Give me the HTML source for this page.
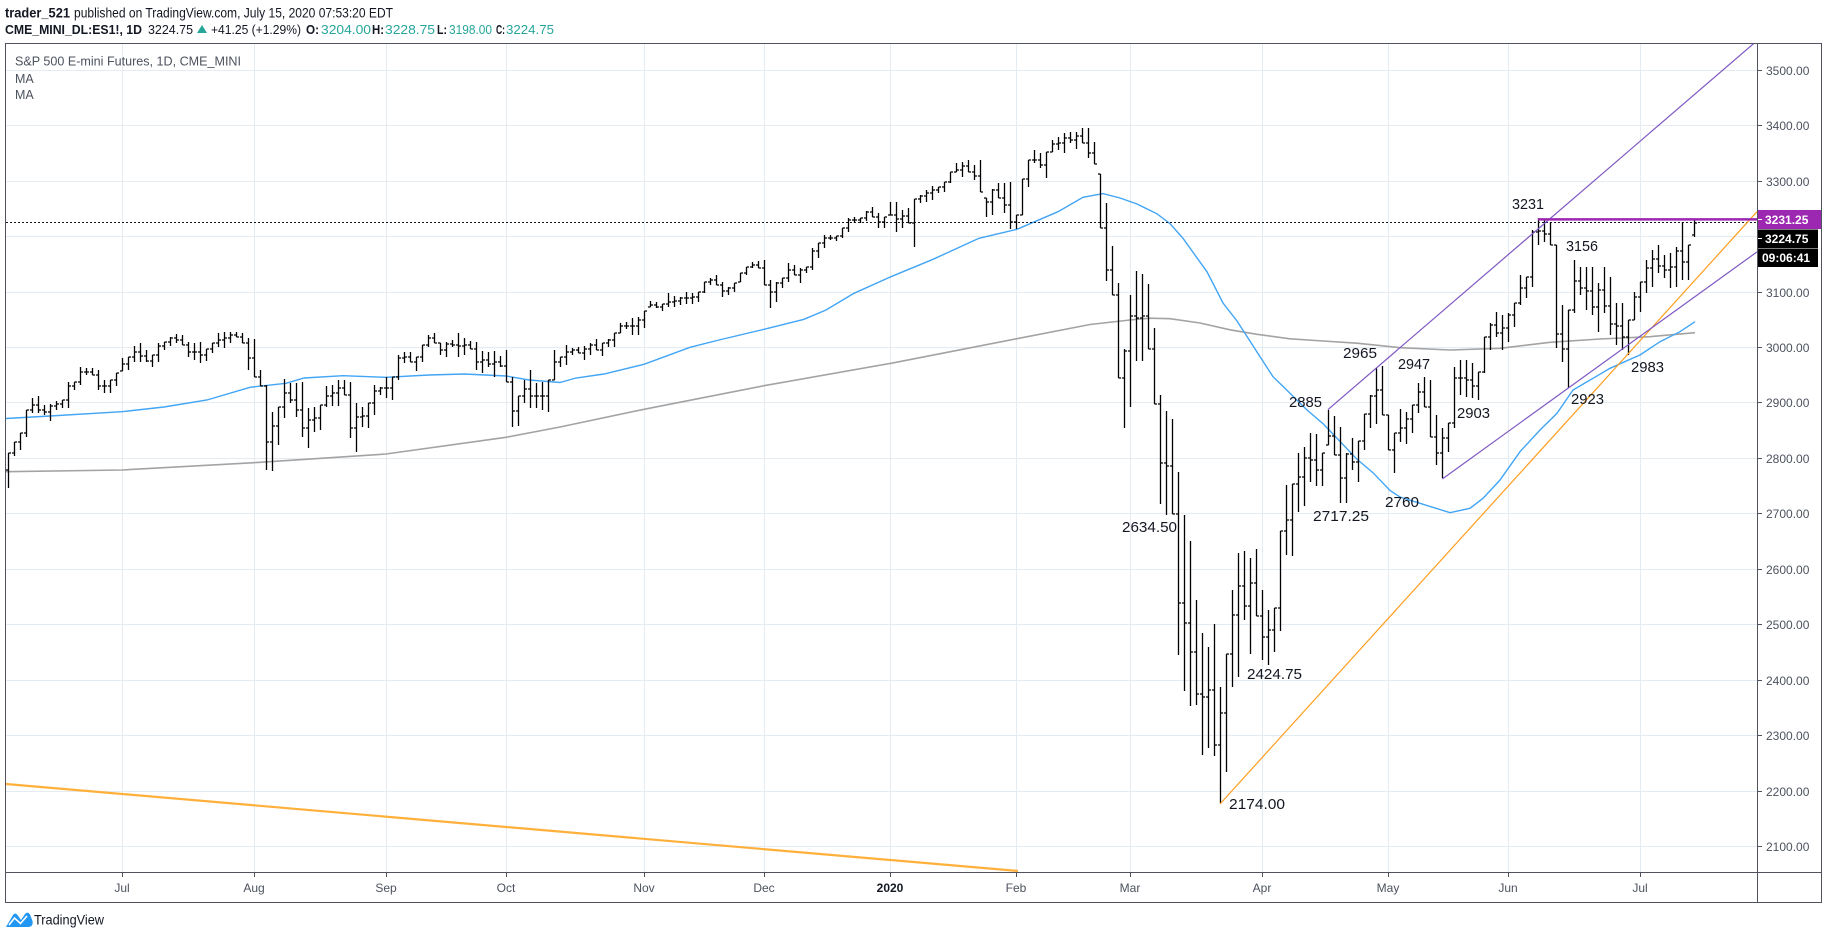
<!DOCTYPE html>
<html><head><meta charset="utf-8">
<style>
html,body{margin:0;padding:0;background:#fff;}
svg{display:block;}
text{font-family:"Liberation Sans",Arial,sans-serif;}
</style></head>
<body>
<svg width="1828" height="938" viewBox="0 0 1828 938" xmlns="http://www.w3.org/2000/svg">
<rect width="1828" height="938" fill="#ffffff"/>
<defs><clipPath id="plot"><rect x="6" y="44" width="1751" height="828"/></clipPath></defs>

<!-- header -->
<text x="5" y="17.5" font-size="13.5" font-weight="bold" fill="#131722" textLength="65" lengthAdjust="spacingAndGlyphs">trader_521</text>
<text x="74" y="17.5" font-size="13.5" fill="#131722" textLength="319" lengthAdjust="spacingAndGlyphs">published on TradingView.com, July 15, 2020 07:53:20 EDT</text>
<text x="5" y="34" font-size="13" font-weight="bold" fill="#131722" textLength="137" lengthAdjust="spacingAndGlyphs">CME_MINI_DL:ES1!, 1D</text>
<text x="148" y="34" font-size="13" fill="#131722" textLength="45" lengthAdjust="spacingAndGlyphs">3224.75</text>
<polygon points="197,33 202,25 207,33" fill="#26a69a"/>
<text x="211" y="34" font-size="13" fill="#131722" textLength="90" lengthAdjust="spacingAndGlyphs">+41.25 (+1.29%)</text>
<text x="306" y="34" font-size="13" font-weight="bold" fill="#131722" textLength="13" lengthAdjust="spacingAndGlyphs">O:</text>
<text x="321" y="34" font-size="13" fill="#26a69a" textLength="50" lengthAdjust="spacingAndGlyphs">3204.00</text>
<text x="372" y="34" font-size="13" font-weight="bold" fill="#131722" textLength="12" lengthAdjust="spacingAndGlyphs">H:</text>
<text x="385" y="34" font-size="13" fill="#26a69a" textLength="50" lengthAdjust="spacingAndGlyphs">3228.75</text>
<text x="437" y="34" font-size="13" font-weight="bold" fill="#131722" textLength="10" lengthAdjust="spacingAndGlyphs">L:</text>
<text x="449" y="34" font-size="13" fill="#26a69a" textLength="43" lengthAdjust="spacingAndGlyphs">3198.00</text>
<text x="496" y="34" font-size="13" font-weight="bold" fill="#131722" textLength="9" lengthAdjust="spacingAndGlyphs">C:</text>
<text x="506" y="34" font-size="13" fill="#26a69a" textLength="48" lengthAdjust="spacingAndGlyphs">3224.75</text>

<!-- grid -->
<g stroke="#e4ebf1" stroke-width="1">
<line x1="6" x2="1757" y1="70.5" y2="70.5"/>
<line x1="6" x2="1757" y1="125.5" y2="125.5"/>
<line x1="6" x2="1757" y1="181.5" y2="181.5"/>
<line x1="6" x2="1757" y1="236.5" y2="236.5"/>
<line x1="6" x2="1757" y1="292.5" y2="292.5"/>
<line x1="6" x2="1757" y1="347.5" y2="347.5"/>
<line x1="6" x2="1757" y1="402.5" y2="402.5"/>
<line x1="6" x2="1757" y1="458.5" y2="458.5"/>
<line x1="6" x2="1757" y1="513.5" y2="513.5"/>
<line x1="6" x2="1757" y1="569.5" y2="569.5"/>
<line x1="6" x2="1757" y1="624.5" y2="624.5"/>
<line x1="6" x2="1757" y1="680.5" y2="680.5"/>
<line x1="6" x2="1757" y1="735.5" y2="735.5"/>
<line x1="6" x2="1757" y1="791.5" y2="791.5"/>
<line x1="6" x2="1757" y1="846.5" y2="846.5"/>
<line y1="44" y2="872" x1="122.5" x2="122.5"/>
<line y1="44" y2="872" x1="254.5" x2="254.5"/>
<line y1="44" y2="872" x1="386.5" x2="386.5"/>
<line y1="44" y2="872" x1="506.5" x2="506.5"/>
<line y1="44" y2="872" x1="644.5" x2="644.5"/>
<line y1="44" y2="872" x1="764.5" x2="764.5"/>
<line y1="44" y2="872" x1="890.5" x2="890.5"/>
<line y1="44" y2="872" x1="1016.5" x2="1016.5"/>
<line y1="44" y2="872" x1="1130.5" x2="1130.5"/>
<line y1="44" y2="872" x1="1262.5" x2="1262.5"/>
<line y1="44" y2="872" x1="1388.5" x2="1388.5"/>
<line y1="44" y2="872" x1="1508.5" x2="1508.5"/>
<line y1="44" y2="872" x1="1640.5" x2="1640.5"/>
</g>

<!-- legend -->
<text x="15" y="65.5" font-size="12.5" fill="#4c525e" textLength="226" lengthAdjust="spacingAndGlyphs">S&amp;P 500 E-mini Futures, 1D, CME_MINI</text>
<text x="15" y="83" font-size="12.5" fill="#4c525e">MA</text>
<text x="15" y="99" font-size="12.5" fill="#4c525e">MA</text>

<g clip-path="url(#plot)">
<!-- MAs -->
<polyline fill="none" stroke="#a3a3a3" stroke-width="1.6" points="6,471.7 122,470 254,462.7 386,454 506,437.3 560,427 644,409.3 764,385.7 891,363.3 1017,338.7 1090,324.5 1130,320 1150,318.2 1170,318.7 1200,323 1230,329.8 1257,334.3 1290,338.8 1323,341 1357,343.2 1400,347.7 1450,350 1500,348.3 1550,342.3 1600,339 1650,336.7 1695,332.7"/>
<polyline fill="none" stroke="#42a5f5" stroke-width="1.4" points="6,418.5 50,416 122,411.7 164,407 207,400 250,387.3 286,383.3 304,378 343,375.7 386,377.3 429,375 464,374 506,376 529,380 560,382.5 576,378 604,374 644,364.3 690,347.3 719,340 764,329.3 804,319.3 826,310 854,293.3 891,276.7 933,259.3 979,238.3 1017,229.3 1058,211.7 1083,197.3 1103,193.6 1120,198 1137,204 1157,213.8 1170,223.6 1183,238.3 1207,271.8 1223,303 1237,321 1257,352 1273,376.7 1290,393.2 1307,410 1323,423.6 1340,441.4 1357,459.3 1373,472.7 1390,490.5 1400,497 1420,503.3 1450,512.7 1470,508.3 1483,498.3 1500,480 1520,451.7 1540,430 1557,413.3 1573,390 1593,378.3 1610,368.3 1627,360.7 1640,355 1660,341.7 1680,331.7 1695,321.7"/>

<!-- dotted last price line -->
<line x1="6" x2="1757" y1="222.5" y2="222.5" stroke="#131722" stroke-width="1" stroke-dasharray="2,2"/>

<!-- bars -->
<path fill="none" stroke="#000" stroke-width="1.3" d="
M8.5 453V488M8.5 470h-2.5M8.5 453h2.5
M14.5 442V456M14.5 453h-2.5M14.5 442h2.5
M20.5 433V450M20.5 442h-2.5M20.5 433h2.5
M26.5 410V437M26.5 433h-2.5M26.5 410h2.5
M32.5 398V413M32.5 410h-2.5M32.5 405h2.5
M38.5 396V413M38.5 405h-2.5M38.5 410h2.5
M44.5 405V415M44.5 410h-2.5M44.5 412h2.5
M50.5 404V421M50.5 412h-2.5M50.5 406h2.5
M56.5 401V410M56.5 406h-2.5M56.5 404h2.5
M62.5 400V408M62.5 404h-2.5M62.5 400h2.5
M68.5 382V408M68.5 400h-2.5M68.5 386h2.5
M74.5 382V390M74.5 386h-2.5M74.5 382h2.5
M80.5 367V385M80.5 382h-2.5M80.5 372h2.5
M86.5 368V375M86.5 372h-2.5M86.5 372h2.5
M92.5 368V375M92.5 372h-2.5M92.5 375h2.5
M98.5 370V390M98.5 375h-2.5M98.5 386h2.5
M104.5 380V393M104.5 386h-2.5M104.5 386h2.5
M110.5 380V393M110.5 386h-2.5M110.5 380h2.5
M116.5 373V386M116.5 380h-2.5M116.5 373h2.5
M122.5 358V371M122.5 371h-2.5M122.5 364h2.5
M128.5 357V370M128.5 364h-2.5M128.5 357h2.5
M134.5 346V362M134.5 357h-2.5M134.5 352h2.5
M140.5 343V362M140.5 352h-2.5M140.5 356h2.5
M146.5 350V362M146.5 356h-2.5M146.5 361h2.5
M152.5 355V367M152.5 361h-2.5M152.5 355h2.5
M158.5 343V362M158.5 355h-2.5M158.5 346h2.5
M164.5 342V350M164.5 346h-2.5M164.5 342h2.5
M170.5 337V346M170.5 342h-2.5M170.5 338h2.5
M176.5 334V343M176.5 338h-2.5M176.5 340h2.5
M182.5 335V345M182.5 340h-2.5M182.5 345h2.5
M188.5 342V357M188.5 345h-2.5M188.5 352h2.5
M194.5 343V360M194.5 352h-2.5M194.5 352h2.5
M200.5 342V363M200.5 352h-2.5M200.5 355h2.5
M206.5 349V361M206.5 355h-2.5M206.5 349h2.5
M212.5 343V353M212.5 349h-2.5M212.5 343h2.5
M218.5 333V347M218.5 343h-2.5M218.5 340h2.5
M224.5 332V348M224.5 340h-2.5M224.5 338h2.5
M230.5 332V343M230.5 338h-2.5M230.5 335h2.5
M236.5 332V337M236.5 335h-2.5M236.5 337h2.5
M242.5 333V343M242.5 337h-2.5M242.5 343h2.5
M248.5 338V370M248.5 343h-2.5M248.5 358h2.5
M254.5 339V377M254.5 358h-2.5M254.5 377h2.5
M260.5 370V386M260.5 377h-2.5M260.5 386h2.5
M266.5 385V470M266.5 386h-2.5M266.5 442h2.5
M272.5 412V471M272.5 442h-2.5M272.5 426h2.5
M278.5 407V445M278.5 426h-2.5M278.5 407h2.5
M284.5 379V418M284.5 407h-2.5M284.5 393h2.5
M290.5 383V403M290.5 393h-2.5M290.5 400h2.5
M296.5 383V417M296.5 400h-2.5M296.5 410h2.5
M302.5 382V437M302.5 410h-2.5M302.5 428h2.5
M308.5 408V448M308.5 428h-2.5M308.5 420h2.5
M314.5 407V432M314.5 420h-2.5M314.5 418h2.5
M320.5 405V430M320.5 418h-2.5M320.5 405h2.5
M326.5 386V407M326.5 405h-2.5M326.5 396h2.5
M332.5 385V406M332.5 396h-2.5M332.5 393h2.5
M338.5 380V406M338.5 393h-2.5M338.5 388h2.5
M344.5 380V395M344.5 388h-2.5M344.5 395h2.5
M350.5 382V438M350.5 395h-2.5M350.5 428h2.5
M356.5 403V452M356.5 428h-2.5M356.5 417h2.5
M362.5 407V427M362.5 417h-2.5M362.5 416h2.5
M368.5 403V428M368.5 416h-2.5M368.5 403h2.5
M374.5 385V415M374.5 403h-2.5M374.5 391h2.5
M380.5 387V395M380.5 391h-2.5M380.5 388h2.5
M386.5 377V398M386.5 388h-2.5M386.5 388h2.5
M392.5 377V400M392.5 388h-2.5M392.5 377h2.5
M398.5 355V380M398.5 377h-2.5M398.5 358h2.5
M404.5 352V363M404.5 358h-2.5M404.5 357h2.5
M410.5 352V362M410.5 357h-2.5M410.5 362h2.5
M416.5 357V371M416.5 362h-2.5M416.5 357h2.5
M422.5 345V362M422.5 357h-2.5M422.5 345h2.5
M428.5 335V347M428.5 345h-2.5M428.5 338h2.5
M434.5 333V343M434.5 338h-2.5M434.5 343h2.5
M440.5 343V355M440.5 343h-2.5M440.5 350h2.5
M446.5 342V357M446.5 350h-2.5M446.5 344h2.5
M452.5 340V347M452.5 344h-2.5M452.5 345h2.5
M458.5 333V357M458.5 345h-2.5M458.5 346h2.5
M464.5 338V355M464.5 346h-2.5M464.5 345h2.5
M470.5 341V349M470.5 345h-2.5M470.5 349h2.5
M476.5 342V370M476.5 349h-2.5M476.5 362h2.5
M482.5 351V373M482.5 362h-2.5M482.5 360h2.5
M488.5 352V367M488.5 360h-2.5M488.5 364h2.5
M494.5 351V377M494.5 364h-2.5M494.5 362h2.5
M500.5 356V367M500.5 362h-2.5M500.5 366h2.5
M506.5 350V382M506.5 366h-2.5M506.5 382h2.5
M512.5 377V427M512.5 382h-2.5M512.5 411h2.5
M518.5 396V426M518.5 411h-2.5M518.5 396h2.5
M524.5 380V403M524.5 396h-2.5M524.5 389h2.5
M530.5 370V408M530.5 389h-2.5M530.5 396h2.5
M536.5 383V408M536.5 396h-2.5M536.5 396h2.5
M542.5 382V410M542.5 396h-2.5M542.5 396h2.5
M548.5 380V412M548.5 396h-2.5M548.5 380h2.5
M554.5 350V380M554.5 380h-2.5M554.5 362h2.5
M560.5 357V367M560.5 362h-2.5M560.5 357h2.5
M566.5 345V365M566.5 357h-2.5M566.5 352h2.5
M572.5 348V355M572.5 352h-2.5M572.5 350h2.5
M578.5 347V353M578.5 350h-2.5M578.5 353h2.5
M584.5 346V360M584.5 353h-2.5M584.5 349h2.5
M590.5 343V355M590.5 349h-2.5M590.5 345h2.5
M596.5 339V350M596.5 345h-2.5M596.5 350h2.5
M602.5 343V356M602.5 350h-2.5M602.5 343h2.5
M608.5 339V347M608.5 343h-2.5M608.5 340h2.5
M614.5 333V347M614.5 340h-2.5M614.5 333h2.5
M620.5 323V333M620.5 333h-2.5M620.5 326h2.5
M626.5 322V329M626.5 326h-2.5M626.5 326h2.5
M632.5 318V335M632.5 326h-2.5M632.5 326h2.5
M638.5 317V335M638.5 326h-2.5M638.5 320h2.5
M644.5 311V328M644.5 320h-2.5M644.5 311h2.5
M650.5 301V307M650.5 307h-2.5M650.5 305h2.5
M656.5 302V308M656.5 305h-2.5M656.5 307h2.5
M662.5 304V311M662.5 307h-2.5M662.5 304h2.5
M668.5 293V307M668.5 304h-2.5M668.5 302h2.5
M674.5 296V307M674.5 302h-2.5M674.5 301h2.5
M680.5 297V305M680.5 301h-2.5M680.5 298h2.5
M686.5 292V304M686.5 298h-2.5M686.5 298h2.5
M692.5 293V304M692.5 298h-2.5M692.5 297h2.5
M698.5 292V302M698.5 297h-2.5M698.5 292h2.5
M704.5 282V293M704.5 292h-2.5M704.5 282h2.5
M710.5 278V285M710.5 282h-2.5M710.5 280h2.5
M716.5 275V285M716.5 280h-2.5M716.5 285h2.5
M722.5 282V297M722.5 285h-2.5M722.5 291h2.5
M728.5 287V295M728.5 291h-2.5M728.5 288h2.5
M734.5 283V292M734.5 288h-2.5M734.5 283h2.5
M740.5 273V282M740.5 282h-2.5M740.5 273h2.5
M746.5 267V275M746.5 273h-2.5M746.5 267h2.5
M752.5 262V268M752.5 267h-2.5M752.5 265h2.5
M758.5 261V268M758.5 265h-2.5M758.5 268h2.5
M764.5 260V285M764.5 268h-2.5M764.5 285h2.5
M770.5 280V308M770.5 285h-2.5M770.5 292h2.5
M776.5 282V302M776.5 292h-2.5M776.5 283h2.5
M782.5 278V288M782.5 283h-2.5M782.5 278h2.5
M788.5 263V282M788.5 278h-2.5M788.5 270h2.5
M794.5 265V275M794.5 270h-2.5M794.5 275h2.5
M800.5 268V283M800.5 275h-2.5M800.5 270h2.5
M806.5 267V273M806.5 270h-2.5M806.5 267h2.5
M812.5 248V270M812.5 267h-2.5M812.5 251h2.5
M818.5 243V258M818.5 251h-2.5M818.5 243h2.5
M824.5 235V248M824.5 243h-2.5M824.5 238h2.5
M830.5 235V240M830.5 238h-2.5M830.5 238h2.5
M836.5 236V241M836.5 238h-2.5M836.5 236h2.5
M842.5 228V238M842.5 236h-2.5M842.5 228h2.5
M848.5 218V232M848.5 228h-2.5M848.5 220h2.5
M854.5 217V223M854.5 220h-2.5M854.5 220h2.5
M860.5 218V223M860.5 220h-2.5M860.5 218h2.5
M866.5 211V221M866.5 218h-2.5M866.5 212h2.5
M872.5 207V217M872.5 212h-2.5M872.5 217h2.5
M878.5 213V228M878.5 217h-2.5M878.5 222h2.5
M884.5 217V228M884.5 222h-2.5M884.5 217h2.5
M890.5 202V215M890.5 215h-2.5M890.5 215h2.5
M896.5 202V232M896.5 215h-2.5M896.5 219h2.5
M902.5 210V228M902.5 219h-2.5M902.5 216h2.5
M908.5 208V223M908.5 216h-2.5M908.5 223h2.5
M914.5 199V247M914.5 223h-2.5M914.5 199h2.5
M920.5 195V203M920.5 199h-2.5M920.5 196h2.5
M926.5 190V202M926.5 196h-2.5M926.5 193h2.5
M932.5 186V200M932.5 193h-2.5M932.5 190h2.5
M938.5 187V193M938.5 190h-2.5M938.5 187h2.5
M944.5 182V192M944.5 187h-2.5M944.5 182h2.5
M950.5 172V183M950.5 182h-2.5M950.5 172h2.5
M956.5 163V172M956.5 172h-2.5M956.5 170h2.5
M962.5 162V177M962.5 170h-2.5M962.5 166h2.5
M968.5 160V172M968.5 166h-2.5M968.5 172h2.5
M974.5 165V180M974.5 172h-2.5M974.5 176h2.5
M980.5 160V192M980.5 176h-2.5M980.5 192h2.5
M986.5 198V217M986.5 198h-2.5M986.5 202h2.5
M992.5 189V215M992.5 202h-2.5M992.5 190h2.5
M998.5 183V198M998.5 190h-2.5M998.5 198h2.5
M1004.5 183V213M1004.5 198h-2.5M1004.5 205h2.5
M1010.5 182V229M1010.5 205h-2.5M1010.5 222h2.5
M1016.5 215V229M1016.5 222h-2.5M1016.5 215h2.5
M1022.5 179V215M1022.5 215h-2.5M1022.5 179h2.5
M1028.5 160V187M1028.5 179h-2.5M1028.5 160h2.5
M1034.5 150V163M1034.5 160h-2.5M1034.5 160h2.5
M1040.5 153V168M1040.5 160h-2.5M1040.5 165h2.5
M1046.5 152V178M1046.5 165h-2.5M1046.5 152h2.5
M1052.5 140V152M1052.5 152h-2.5M1052.5 144h2.5
M1058.5 137V150M1058.5 144h-2.5M1058.5 143h2.5
M1064.5 133V153M1064.5 143h-2.5M1064.5 138h2.5
M1070.5 132V143M1070.5 138h-2.5M1070.5 140h2.5
M1076.5 132V149M1076.5 140h-2.5M1076.5 136h2.5
M1082.5 128V143M1082.5 136h-2.5M1082.5 143h2.5
M1088.5 128V158M1088.5 143h-2.5M1088.5 153h2.5
M1094.5 142V164M1094.5 153h-2.5M1094.5 164h2.5
M1100.5 174V228M1100.5 174h-2.5M1100.5 228h2.5
M1106.5 203V281M1106.5 228h-2.5M1106.5 270h2.5
M1112.5 246V295M1112.5 270h-2.5M1112.5 295h2.5
M1118.5 283V378M1118.5 295h-2.5M1118.5 378h2.5
M1124.5 349V428M1124.5 378h-2.5M1124.5 351h2.5
M1130.5 295V407M1130.5 351h-2.5M1130.5 316h2.5
M1136.5 271V361M1136.5 316h-2.5M1136.5 318h2.5
M1142.5 274V361M1142.5 318h-2.5M1142.5 316h2.5
M1148.5 284V349M1148.5 316h-2.5M1148.5 349h2.5
M1154.5 328V404M1154.5 349h-2.5M1154.5 404h2.5
M1160.5 395V504M1160.5 404h-2.5M1160.5 463h2.5
M1166.5 411V515M1166.5 463h-2.5M1166.5 466h2.5
M1172.5 419V514M1172.5 466h-2.5M1172.5 514h2.5
M1178.5 472V655M1178.5 514h-2.5M1178.5 603h2.5
M1184.5 515V691M1184.5 603h-2.5M1184.5 623h2.5
M1190.5 541V706M1190.5 623h-2.5M1190.5 652h2.5
M1196.5 600V705M1196.5 652h-2.5M1196.5 694h2.5
M1202.5 633V755M1202.5 694h-2.5M1202.5 697h2.5
M1208.5 647V748M1208.5 697h-2.5M1208.5 690h2.5
M1214.5 624V756M1214.5 690h-2.5M1214.5 745h2.5
M1220.5 687V803M1220.5 745h-2.5M1220.5 713h2.5
M1226.5 654V772M1226.5 713h-2.5M1226.5 654h2.5
M1232.5 590V687M1232.5 654h-2.5M1232.5 615h2.5
M1238.5 553V677M1238.5 615h-2.5M1238.5 586h2.5
M1244.5 551V620M1244.5 586h-2.5M1244.5 606h2.5
M1250.5 558V654M1250.5 606h-2.5M1250.5 583h2.5
M1256.5 549V616M1256.5 583h-2.5M1256.5 616h2.5
M1262.5 590V660M1262.5 616h-2.5M1262.5 637h2.5
M1268.5 610V665M1268.5 637h-2.5M1268.5 630h2.5
M1274.5 608V652M1274.5 630h-2.5M1274.5 608h2.5
M1280.5 531V631M1280.5 608h-2.5M1280.5 531h2.5
M1286.5 485V555M1286.5 531h-2.5M1286.5 520h2.5
M1292.5 484V556M1292.5 520h-2.5M1292.5 484h2.5
M1298.5 453V512M1298.5 484h-2.5M1298.5 477h2.5
M1304.5 447V506M1304.5 477h-2.5M1304.5 458h2.5
M1310.5 433V482M1310.5 458h-2.5M1310.5 460h2.5
M1316.5 434V486M1316.5 460h-2.5M1316.5 470h2.5
M1322.5 453V486M1322.5 470h-2.5M1322.5 453h2.5
M1328.5 410V445M1328.5 445h-2.5M1328.5 436h2.5
M1334.5 416V455M1334.5 436h-2.5M1334.5 455h2.5
M1340.5 427V503M1340.5 455h-2.5M1340.5 478h2.5
M1346.5 453V503M1346.5 478h-2.5M1346.5 454h2.5
M1352.5 438V470M1352.5 454h-2.5M1352.5 462h2.5
M1358.5 441V482M1358.5 462h-2.5M1358.5 441h2.5
M1364.5 414V450M1364.5 441h-2.5M1364.5 414h2.5
M1370.5 395V428M1370.5 414h-2.5M1370.5 396h2.5
M1376.5 368V424M1376.5 396h-2.5M1376.5 390h2.5
M1382.5 366V415M1382.5 390h-2.5M1382.5 415h2.5
M1388.5 415V450M1388.5 415h-2.5M1388.5 450h2.5
M1394.5 433V473M1394.5 450h-2.5M1394.5 433h2.5
M1400.5 409V442M1400.5 433h-2.5M1400.5 428h2.5
M1406.5 412V444M1406.5 428h-2.5M1406.5 419h2.5
M1412.5 405V433M1412.5 419h-2.5M1412.5 405h2.5
M1418.5 383V413M1418.5 405h-2.5M1418.5 392h2.5
M1424.5 377V407M1424.5 392h-2.5M1424.5 407h2.5
M1430.5 380V437M1430.5 407h-2.5M1430.5 437h2.5
M1436.5 415V465M1436.5 437h-2.5M1436.5 453h2.5
M1442.5 428V478M1442.5 453h-2.5M1442.5 438h2.5
M1448.5 423V452M1448.5 438h-2.5M1448.5 423h2.5
M1454.5 367V428M1454.5 423h-2.5M1454.5 378h2.5
M1460.5 360V395M1460.5 378h-2.5M1460.5 378h2.5
M1466.5 360V397M1466.5 378h-2.5M1466.5 380h2.5
M1472.5 363V398M1472.5 380h-2.5M1472.5 386h2.5
M1478.5 372V400M1478.5 386h-2.5M1478.5 372h2.5
M1484.5 337V373M1484.5 372h-2.5M1484.5 337h2.5
M1490.5 323V350M1490.5 337h-2.5M1490.5 325h2.5
M1496.5 312V337M1496.5 325h-2.5M1496.5 333h2.5
M1502.5 315V350M1502.5 333h-2.5M1502.5 328h2.5
M1508.5 313V342M1508.5 328h-2.5M1508.5 315h2.5
M1514.5 303V327M1514.5 315h-2.5M1514.5 303h2.5
M1520.5 275V305M1520.5 303h-2.5M1520.5 288h2.5
M1526.5 277V298M1526.5 288h-2.5M1526.5 277h2.5
M1532.5 230V287M1532.5 277h-2.5M1532.5 232h2.5
M1538.5 218V245M1538.5 232h-2.5M1538.5 231h2.5
M1544.5 220V242M1544.5 231h-2.5M1544.5 234h2.5
M1550.5 222V245M1550.5 234h-2.5M1550.5 245h2.5
M1556.5 245V348M1556.5 245h-2.5M1556.5 334h2.5
M1562.5 305V362M1562.5 334h-2.5M1562.5 349h2.5
M1568.5 310V388M1568.5 349h-2.5M1568.5 310h2.5
M1574.5 260V313M1574.5 310h-2.5M1574.5 281h2.5
M1580.5 267V295M1580.5 281h-2.5M1580.5 288h2.5
M1586.5 267V310M1586.5 288h-2.5M1586.5 291h2.5
M1592.5 267V315M1592.5 291h-2.5M1592.5 307h2.5
M1598.5 283V332M1598.5 307h-2.5M1598.5 290h2.5
M1604.5 267V313M1604.5 290h-2.5M1604.5 306h2.5
M1610.5 277V335M1610.5 306h-2.5M1610.5 324h2.5
M1616.5 303V345M1616.5 324h-2.5M1616.5 326h2.5
M1622.5 303V350M1622.5 326h-2.5M1622.5 337h2.5
M1628.5 320V355M1628.5 337h-2.5M1628.5 320h2.5
M1634.5 292V320M1634.5 320h-2.5M1634.5 297h2.5
M1640.5 282V312M1640.5 297h-2.5M1640.5 282h2.5
M1646.5 260V293M1646.5 282h-2.5M1646.5 268h2.5
M1652.5 250V287M1652.5 268h-2.5M1652.5 259h2.5
M1658.5 245V273M1658.5 259h-2.5M1658.5 266h2.5
M1664.5 255V278M1664.5 266h-2.5M1664.5 270h2.5
M1670.5 253V288M1670.5 270h-2.5M1670.5 267h2.5
M1676.5 247V287M1676.5 267h-2.5M1676.5 251h2.5
M1682.5 222V280M1682.5 251h-2.5M1682.5 262h2.5
M1688.5 245V280M1688.5 262h-2.5M1688.5 245h2.5
M1694.5 220V237M1694.5 235h-2.5M1694.5 223h2.5"/>

<!-- drawings -->
<line x1="6" y1="784" x2="1018" y2="871" stroke="#ffb03b" stroke-width="2.2"/>
<line x1="1220" y1="804" x2="1757" y2="211.7" stroke="#ff9d1f" stroke-width="1.2"/>
<line x1="1328" y1="409.6" x2="1757" y2="40.7" stroke="#7e57c2" stroke-width="1.2"/>
<line x1="1442.3" y1="479" x2="1757" y2="251.9" stroke="#7e57c2" stroke-width="1.2"/>
<line x1="1538" y1="219.4" x2="1757" y2="219.4" stroke="#9c27b0" stroke-width="2.5"/>
</g>

<!-- annotations -->
<g font-size="15" fill="#131722">
<text x="1512" y="209" textLength="32" lengthAdjust="spacingAndGlyphs">3231</text>
<text x="1566" y="251" textLength="32" lengthAdjust="spacingAndGlyphs">3156</text>
<text x="1398" y="369" textLength="32" lengthAdjust="spacingAndGlyphs">2947</text>
<text x="1457" y="418" textLength="33" lengthAdjust="spacingAndGlyphs">2903</text>
<text x="1571" y="404" textLength="33" lengthAdjust="spacingAndGlyphs">2923</text>
<text x="1631" y="372" textLength="33" lengthAdjust="spacingAndGlyphs">2983</text>
<text x="1343" y="358" textLength="34" lengthAdjust="spacingAndGlyphs">2965</text>
<text x="1289" y="407" textLength="33" lengthAdjust="spacingAndGlyphs">2885</text>
<text x="1385" y="507" textLength="34" lengthAdjust="spacingAndGlyphs">2760</text>
<text x="1313" y="521" textLength="56" lengthAdjust="spacingAndGlyphs">2717.25</text>
<text x="1122" y="532" textLength="55" lengthAdjust="spacingAndGlyphs">2634.50</text>
<text x="1247" y="679" textLength="55" lengthAdjust="spacingAndGlyphs">2424.75</text>
<text x="1229" y="809" textLength="56" lengthAdjust="spacingAndGlyphs">2174.00</text>
</g>

<!-- frame -->
<rect x="5.5" y="43.5" width="1816" height="859" fill="none" stroke="#50535e" stroke-width="1"/>
<line x1="6" x2="1821" y1="872.5" y2="872.5" stroke="#50535e"/>
<line x1="1757.5" x2="1757.5" y1="44" y2="902" stroke="#50535e"/>

<!-- price axis -->
<g stroke="#50535e">
<line x1="1758" x2="1762" y1="70.5" y2="70.5"/>
<line x1="1758" x2="1762" y1="125.5" y2="125.5"/>
<line x1="1758" x2="1762" y1="181.5" y2="181.5"/>
<line x1="1758" x2="1762" y1="292.5" y2="292.5"/>
<line x1="1758" x2="1762" y1="347.5" y2="347.5"/>
<line x1="1758" x2="1762" y1="402.5" y2="402.5"/>
<line x1="1758" x2="1762" y1="458.5" y2="458.5"/>
<line x1="1758" x2="1762" y1="513.5" y2="513.5"/>
<line x1="1758" x2="1762" y1="569.5" y2="569.5"/>
<line x1="1758" x2="1762" y1="624.5" y2="624.5"/>
<line x1="1758" x2="1762" y1="680.5" y2="680.5"/>
<line x1="1758" x2="1762" y1="735.5" y2="735.5"/>
<line x1="1758" x2="1762" y1="791.5" y2="791.5"/>
<line x1="1758" x2="1762" y1="846.5" y2="846.5"/>
</g>
<g font-size="12" fill="#4c525e">
<text x="1766" y="75">3500.00</text>
<text x="1766" y="130">3400.00</text>
<text x="1766" y="186">3300.00</text>
<text x="1766" y="297">3100.00</text>
<text x="1766" y="352">3000.00</text>
<text x="1766" y="407">2900.00</text>
<text x="1766" y="463">2800.00</text>
<text x="1766" y="518">2700.00</text>
<text x="1766" y="574">2600.00</text>
<text x="1766" y="629">2500.00</text>
<text x="1766" y="685">2400.00</text>
<text x="1766" y="740">2300.00</text>
<text x="1766" y="796">2200.00</text>
<text x="1766" y="851">2100.00</text>
</g>
<rect x="1758" y="210" width="63" height="19" fill="#9c27b0"/>
<rect x="1758" y="229.5" width="60" height="18.5" fill="#000"/>
<rect x="1758" y="248.5" width="60" height="18.5" fill="#000"/>
<line x1="1758" x2="1762" y1="219.5" y2="219.5" stroke="#fff"/>
<line x1="1758" x2="1762" y1="238.5" y2="238.5" stroke="#fff"/>
<g font-size="12" font-weight="bold" fill="#ffffff">
<text x="1765" y="224">3231.25</text>
<text x="1765" y="243">3224.75</text>
<text x="1762" y="262">09:06:41</text>
</g>

<!-- time axis -->
<g stroke="#50535e">
<line x1="122.5" x2="122.5" y1="873" y2="877"/>
<line x1="254.5" x2="254.5" y1="873" y2="877"/>
<line x1="386.5" x2="386.5" y1="873" y2="877"/>
<line x1="506.5" x2="506.5" y1="873" y2="877"/>
<line x1="644.5" x2="644.5" y1="873" y2="877"/>
<line x1="764.5" x2="764.5" y1="873" y2="877"/>
<line x1="890.5" x2="890.5" y1="873" y2="877"/>
<line x1="1016.5" x2="1016.5" y1="873" y2="877"/>
<line x1="1130.5" x2="1130.5" y1="873" y2="877"/>
<line x1="1262.5" x2="1262.5" y1="873" y2="877"/>
<line x1="1388.5" x2="1388.5" y1="873" y2="877"/>
<line x1="1508.5" x2="1508.5" y1="873" y2="877"/>
<line x1="1640.5" x2="1640.5" y1="873" y2="877"/>
</g>
<g font-size="12" fill="#4c525e" text-anchor="middle">
<text x="122" y="892">Jul</text>
<text x="254" y="892">Aug</text>
<text x="386" y="892">Sep</text>
<text x="506" y="892">Oct</text>
<text x="644" y="892">Nov</text>
<text x="764" y="892">Dec</text>
<text x="890" y="892" font-weight="bold" fill="#131722">2020</text>
<text x="1016" y="892">Feb</text>
<text x="1130" y="892">Mar</text>
<text x="1262" y="892">Apr</text>
<text x="1388" y="892">May</text>
<text x="1508" y="892">Jun</text>
<text x="1640" y="892">Jul</text>
</g>

<!-- logo -->
<path d="M6 927 L13 915 Q15 912 17.5 915 L21 920 L25 914 Q27.5 911 30 914.5 L32.5 921 Q33.5 927 28 927 Z" fill="#2196f3"/>
<polyline points="9,925 14.5,918 20.5,923.5 27,916" fill="none" stroke="#fff" stroke-width="1.6"/>
<text x="34" y="924.5" font-size="13.5" fill="#131722" textLength="70" lengthAdjust="spacingAndGlyphs">TradingView</text>
</svg>
</body></html>
